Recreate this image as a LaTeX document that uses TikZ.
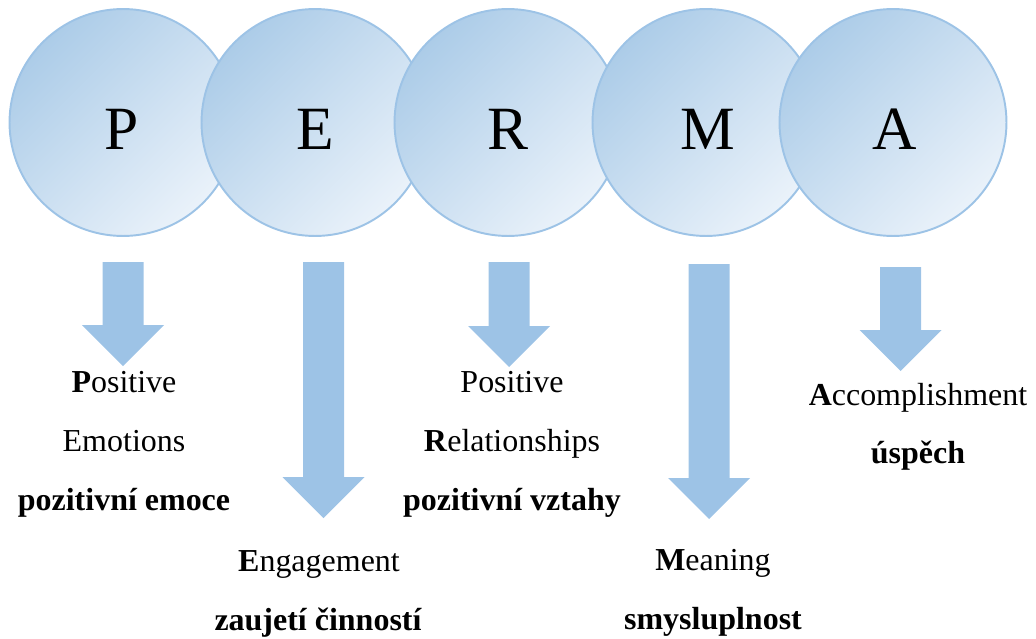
\documentclass[tikz,border=0pt]{standalone}
\usepackage{fontspec}
\setmainfont{Liberation Serif}
\definecolor{ballback}{RGB}{172,204,232}
\definecolor{ballfront}{RGB}{234,242,250}
\definecolor{arrowblue}{RGB}{157,195,230}
\def\blockarrow(#1,#2,#3){\fill[arrowblue] (#1-20.5,#2) -- (#1+20.5,#2) -- (#1+20.5,#3-41) -- (#1+41,#3-41) -- (#1,#3) -- (#1-41,#3-41) -- (#1-20.5,#3-41) -- cycle;}

\begin{document}
\begin{tikzpicture}[x=0.02cm,y=-0.02cm,
	ball/.style={circle,draw=arrowblue,line width=1.1pt,minimum size=4.54cm,inner sep=0pt,
		top color=ballback,bottom color=ballfront,shading angle=45},
	letter/.style={anchor=base,inner sep=0pt,font=\fontsize{35}{40}\selectfont},
	word/.style={anchor=base,inner sep=0pt,font=\fontsize{18.2}{22}\selectfont},
	czech/.style={anchor=base,inner sep=0pt,font=\fontsize{18.2}{22}\selectfont\bfseries}]
			%%%%% START %%%%%
			\useasboundingbox (0,0) rectangle (1036,639);
			
			\node[ball] (P) at (123,122.5) {};
			\node[letter] (lP) at (122,149) {P};
			\node[ball] (E) at (315,122.5) {};
			\node[letter] (lE) at (315,149) {E};
			\node[ball] (R) at (508,122.5) {};
			\node[letter] (lR) at (508,149) {R};
			\node[ball] (M) at (706,122.5) {};
			\node[letter] (lM) at (707.5,149) {M};
			\node[ball] (A) at (893,122.5) {};
			\node[letter] (lA) at (894.5,149) {A};
			
			\blockarrow(123,262,366)
			\blockarrow(323.5,262,518)
			\blockarrow(509,262,367)
			\blockarrow(709,264,519)
			\blockarrow(900.5,267,371)
			
			\node[word] (p1) at (124,392) {\textbf{P}ositive};
			\node[word] (p2) at (124,451) {Emotions};
			\node[czech] (p3) at (124,510) {pozitivní emoce};
			
			\node[word] (e1) at (319,571) {\textbf{E}ngagement};
			\node[czech] (e2) at (318,630) {zaujetí činností};
			
			\node[word] (r1) at (512,392) {Positive};
			\node[word] (r2) at (512,451) {\textbf{R}elationships};
			\node[czech] (r3) at (512,510) {pozitivní vztahy};
			
			\node[word] (m1) at (713,570) {\textbf{M}eaning};
			\node[czech] (m2) at (713,629) {smysluplnost};
			
			\node[word] (a1) at (918,405.5) {\textbf{A}ccomplishment};
			\node[czech] (a2) at (918,463) {úspěch};
			%%%%% END %%%%%
\end{tikzpicture}
\end{document}
